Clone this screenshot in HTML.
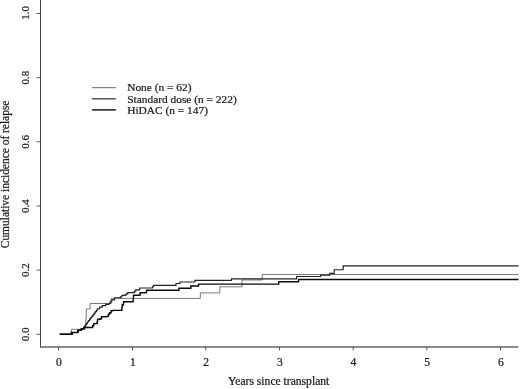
<!DOCTYPE html>
<html><head><meta charset="utf-8">
<style>
html,body{margin:0;padding:0;background:#fff;}
body{width:520px;height:389px;overflow:hidden;font-family:"Liberation Serif",serif;}
svg{display:block;filter:grayscale(1);}
text{font-family:"Liberation Serif",serif;fill:#1a1a1a;}
</style></head><body>
<svg width="520" height="389" viewBox="0 0 520 389">
<rect width="520" height="389" fill="#fff"/>
<g fill="none">
<path d="M40.5 0V347.7" stroke="#444" stroke-width="1"/>
<path d="M40.0 347.0H518.3" stroke="#666" stroke-width="1.4"/>
<path d="M36.6 334.3H40.5M36.6 270.1H40.5M36.6 206.0H40.5M36.6 141.8H40.5M36.6 77.7H40.5M36.6 13.5H40.5M58.5 347.0V350.4M132.5 347.0V350.4M205.8 347.0V350.4M279.5 347.0V350.4M353.2 347.0V350.4M426.8 347.0V350.4M500.5 347.0V350.4" stroke="#444" stroke-width="0.9"/>
</g>
<g font-size="11.6" text-anchor="middle" stroke="#1a1a1a" stroke-width="0.22">
<text x="58.8" y="366">0</text>
<text x="132.8" y="366">1</text>
<text x="206.1" y="366">2</text>
<text x="279.8" y="366">3</text>
<text x="353.5" y="366">4</text>
<text x="427.1" y="366">5</text>
<text x="500.8" y="366">6</text>
<text x="278.7" y="385">Years since transplant</text>
</g>
<g font-size="11" text-anchor="middle" stroke="#1a1a1a" stroke-width="0.22">
<text transform="translate(29.3,334.3) rotate(-90)">0.0</text>
<text transform="translate(29.3,270.1) rotate(-90)">0.2</text>
<text transform="translate(29.3,206.0) rotate(-90)">0.4</text>
<text transform="translate(29.3,141.8) rotate(-90)">0.6</text>
<text transform="translate(29.3,77.7) rotate(-90)">0.8</text>
<text transform="translate(29.3,12.9) rotate(-90)">1.0</text>
<text transform="translate(9.2,174.4) rotate(-90)" font-size="11.45">Cumulative incidence of relapse</text>
</g>
<g font-size="11.4" stroke="#1a1a1a" stroke-width="0.22">
<path d="M92 87.7H115.8" stroke="#555" stroke-width="0.9"/>
<path d="M92 98.8H115.8" stroke="#2a2a2a" stroke-width="1.2"/>
<path d="M92 109.9H115.8" stroke="#0a0a0a" stroke-width="1.4"/>
<text x="127.2" y="91.4">None (n = 62)</text>
<text x="127.2" y="102.6">Standard dose (n = 222)</text>
<text x="127.2" y="113.8">HiDAC (n = 147)</text>
</g>
<g fill="none" stroke-linejoin="miter">
<path d="M59.8 334.1H71.6V329.3H85.3V324H85.8V318.7H86.3V309H90.1V303.5H111.2V298.4H200.3V292.9H219.8V286.8H242V280H262.2V274.5H518.5" stroke="#555" stroke-width="0.8"/>
<path d="M59.8 334.4H71.0H72.6V332.6H77.5V332.2H78.5V330.2H81.6V328.8H83.7V327.4H84.6V326.1H85.5V324.8H86.5V323.4H87.4V322.0H88.4V320.6H89.6V319.1H90.7V317.6H91.9V316.1H93.1V314.6H94.2V313.1H95.3V311.6H96.5V310.0H97.6V308.7H99.6V307.1H102.3V305.6H105.7V304.4H108.8V303.6H110.0V302.1H111.0V301.0H111.9V299.8H114.6V297.7H120.4V296.9H121.9V295.3H125.0V294.9H126.3V293.8H127.7V292.6H133.5V292.3H134.7V291.1H135.8V289.9H139.7V288.0H151.4H152.4V286.7H153.4V285.4H175.2H176.0V283.5H179.7H180.0V282.0H194.5H195.0V280.3H231.3H231.5V278.8H296.5H296.6V277.6H296.7V276.5H320.3H320.6V275.1H329.6H329.8V273.3H334.1H334.2V271.5H334.3V269.7H343.1H343.2V268.4H343.2V267.2H343.3V265.9H518.5" stroke="#222" stroke-width="1.15"/>
<path d="M59.8 334.3H71.0H71.2V332.4H77.5H77.7V330.2H81.0H81.2V328.7H83.7H83.9V327.5H92.3H92.6V325.8H93.8V323.6H96.9V323.4H97.2V321.4H97.6V319.3H100.3V318.8H101.5V316.8H106.5V316.4H108.4V314.3H109.6V312.8H111.1V310.8H112.7V310.4H121.5V310.2H121.8V308.4H122.0V306.5H122.3V304.7H123.5V301.8H133.1V301.4H133.2V299.3H133.4V297.3H133.5V295.2H139.7V294.9H140.1V292.8H145.8V292.5H146.6V290.2H178.7H178.9V288.3H190.6H190.8V286.0H198.3H198.5V284.1H278.5H278.7V281.7H298.4H298.6V279.5H518.5" stroke="#0a0a0a" stroke-width="1.4"/>
</g>
</svg>
</body></html>
